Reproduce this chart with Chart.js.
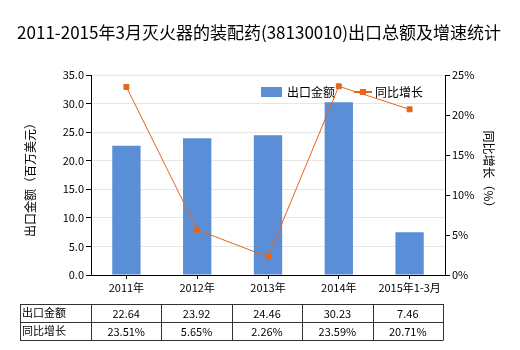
<!DOCTYPE html>
<html>
<head>
<meta charset="utf-8">
<script src="https://cdn.jsdelivr.net/npm/chart.js@4"></script>
<style>
  html, body { margin: 0; padding: 0; background: #fff; }
  #wrap { width: 520px; height: 350px; position: relative; }
</style>
</head>
<body>
<div id="wrap"><canvas id="c" width="520" height="350"></canvas></div>
<script>
// chart data
const categories = ['2011年', '2012年', '2013年', '2014年', '2015年1-3月'];
const exportValues = [22.64, 23.92, 24.46, 30.23, 7.46];
const growthValues = [23.51, 5.65, 2.26, 23.59, 20.71];
const exportLabels = ['22.64', '23.92', '24.46', '30.23', '7.46'];
const growthLabels = ['23.51%', '5.65%', '2.26%', '23.59%', '20.71%'];

const FONT = '"Noto Sans CJK SC", "DejaVu Sans", sans-serif';
const BAR_COLOR = '#5A8ED6';
const LINE_COLOR = '#E3661C';

// title, axis titles, legend and the data table under the axis
const extras = {
    id: 'extras',
    afterDraw(chart) {
        const ctx = chart.ctx;
        const area = chart.chartArea;
        ctx.save();

        // title
        ctx.fillStyle = '#000';
        ctx.font = '17px ' + FONT;
        ctx.textAlign = 'center';
        ctx.textBaseline = 'middle';
        ctx.fillText('2011-2015年3月灭火器的装配药(38130010)出口总额及增速统计', 259, 33);

        // axis titles
        ctx.font = '12px ' + FONT;
        ctx.save();
        ctx.translate(30, 177);
        ctx.rotate(-Math.PI / 2);
        ctx.fillText('出口金额（百万美元）', 0, 0);
        ctx.restore();
        ctx.save();
        ctx.translate(489, 172);
        ctx.rotate(Math.PI / 2);
        ctx.fillText('同比增长（%）', 0, 0);
        ctx.restore();

        // legend
        ctx.textAlign = 'left';
        ctx.fillStyle = BAR_COLOR;
        ctx.fillRect(261, 87, 21, 10);
        ctx.fillStyle = '#000';
        ctx.fillText('出口金额', 287, 92);
        ctx.strokeStyle = LINE_COLOR;
        ctx.lineWidth = 2;
        ctx.beginPath();
        ctx.moveTo(354, 92);
        ctx.lineTo(372, 92);
        ctx.stroke();
        ctx.fillStyle = LINE_COLOR;
        ctx.fillRect(360, 89, 6, 6);
        ctx.fillStyle = '#000';
        ctx.fillText('同比增长', 375, 92);

        // table
        const x0 = 20;
        const left = area.left;
        const right = area.right - 2;
        const colW = (right - left) / categories.length;
        const rows = [304, 322, 340];
        ctx.strokeStyle = '#333';
        ctx.lineWidth = 1;
        ctx.beginPath();
        rows.forEach(y => { ctx.moveTo(x0, y + 0.5); ctx.lineTo(right, y + 0.5); });
        ctx.moveTo(x0 + 0.5, rows[0]); ctx.lineTo(x0 + 0.5, rows[2] + 0.5);
        for (let i = 0; i <= categories.length; i++) {
            const x = Math.round(left + i * colW) + 0.5;
            ctx.moveTo(x, rows[0]); ctx.lineTo(x, rows[2] + 0.5);
        }
        ctx.stroke();

        ctx.font = '11px ' + FONT;
        ctx.fillStyle = '#000';
        ctx.textAlign = 'left';
        ctx.fillText('出口金额', x0 + 2, (rows[0] + rows[1]) / 2);
        ctx.fillText('同比增长', x0 + 2, (rows[1] + rows[2]) / 2);
        ctx.textAlign = 'center';
        for (let i = 0; i < categories.length; i++) {
            const cx = left + (i + 0.5) * colW;
            ctx.fillText(exportLabels[i], cx, (rows[0] + rows[1]) / 2 + 1);
            ctx.fillText(growthLabels[i], cx, (rows[1] + rows[2]) / 2 + 1);
        }
        ctx.restore();
    }
};

new Chart(document.getElementById('c'), {
    type: 'bar',
    data: {
        labels: categories,
        datasets: [
            {
                type: 'line',
                label: '同比增长',
                data: growthValues,
                yAxisID: 'y1',
                borderColor: LINE_COLOR,
                backgroundColor: LINE_COLOR,
                borderWidth: 1,
                pointStyle: 'rect',
                pointRadius: 3.5,
                tension: 0,
                order: 0
            },
            {
                label: '出口金额',
                data: exportValues,
                yAxisID: 'y',
                backgroundColor: BAR_COLOR,
                barPercentage: 0.4,
                categoryPercentage: 1,
                order: 1
            }
        ]
    },
    options: {
        responsive: false,
        animation: false,
        layout: { padding: { top: 75, bottom: 55, left: 0, right: 0 } },
        plugins: {
            legend: { display: false },
            title: { display: false },
            tooltip: { enabled: false }
        },
        scales: {
            x: {
                grid: { display: true, drawOnChartArea: false, offset: false, tickLength: 4, tickColor: '#000' },
                border: { color: '#000' },
                ticks: { color: '#000', font: { size: 11, family: FONT }, padding: 2, maxRotation: 0 },
                afterFit(s) { s.height = 20; }
            },
            y: {
                position: 'left',
                min: 0,
                max: 35,
                ticks: {
                    stepSize: 5,
                    color: '#000',
                    font: { size: 11, family: FONT },
                    padding: 2,
                    callback: v => v.toFixed(1)
                },
                grid: { color: '#e6e6e6', tickColor: '#000', tickLength: 5 },
                border: { color: '#000' },
                afterFit(s) { s.width = 91; }
            },
            y1: {
                position: 'right',
                min: 0,
                max: 25,
                ticks: {
                    stepSize: 5,
                    color: '#000',
                    font: { size: 11, family: FONT },
                    padding: 2,
                    callback: v => v + '%'
                },
                grid: { drawOnChartArea: false, tickColor: '#000', tickLength: 5 },
                border: { color: '#000' },
                afterFit(s) { s.width = 75; }
            }
        }
    },
    plugins: [extras]
});
</script>
</body>
</html>
